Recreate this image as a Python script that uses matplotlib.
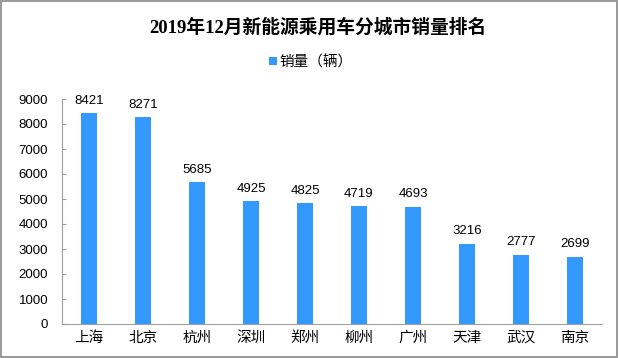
import matplotlib
matplotlib.use('Agg')
from matplotlib import pyplot as plt
from matplotlib.patches import Rectangle
import numpy as np

plt.rcParams['font.family'] = ['Liberation Sans', 'Noto Sans CJK SC', 'DejaVu Sans']

cities = ['上海', '北京', '杭州', '深圳', '郑州', '柳州', '广州', '天津', '武汉', '南京']
sales = [8421, 8271, 5685, 4925, 4825, 4719, 4693, 3216, 2777, 2699]
yticks = [0, 1000, 2000, 3000, 4000, 5000, 6000, 7000, 8000, 9000]

fig = plt.figure(figsize=(6.19, 3.58), dpi=100)
ax = fig.add_axes([62 / 619, 1 - 324 / 358, 540 / 619, 225 / 358])

x = np.arange(len(cities))
ax.bar(x, sales, width=0.31, color='#3399ff', label='销量（辆）', zorder=2)
for xi, v in zip(x, sales):
    ax.text(xi, v + 250, str(v), ha='center', va='bottom', fontsize=9.5)

ax.set_xlim(-0.5, len(cities) - 0.5)
ax.set_ylim(0, 9000)
ax.set_yticks(yticks)
ax.set_xticks(x)
ax.set_xticklabels(cities, fontsize=10.5, family=['Noto Sans CJK SC'])
ax.tick_params(axis='y', labelsize=9.5, direction='in', length=3, color='#a0a0a0', pad=10)
ax.tick_params(axis='x', length=0, pad=5)
for s in ['top', 'right']:
    ax.spines[s].set_visible(False)
for s in ['left', 'bottom']:
    ax.spines[s].set_color('#a0a0a0')

fig.text(318 / 619, 1 - 27 / 358, '2019年12月新能源乘用车分城市销量排名', ha='center', va='center',
         fontsize=13.5, fontweight='bold', family=['Liberation Serif', 'Noto Sans CJK SC'])
fig.legend(loc='center', bbox_to_anchor=(311 / 619, 1 - 62 / 358), frameon=False,
           prop={'family': ['Noto Sans CJK SC'], 'size': 10.5},
           handlelength=0.5, handleheight=0.5, handletextpad=0.2)

fig.patches.append(Rectangle((0.001, 0.002), 0.996, 0.995, transform=fig.transFigure,
                             fill=False, edgecolor='#888888', linewidth=1.2))

plt.savefig('out.png', dpi=100)
